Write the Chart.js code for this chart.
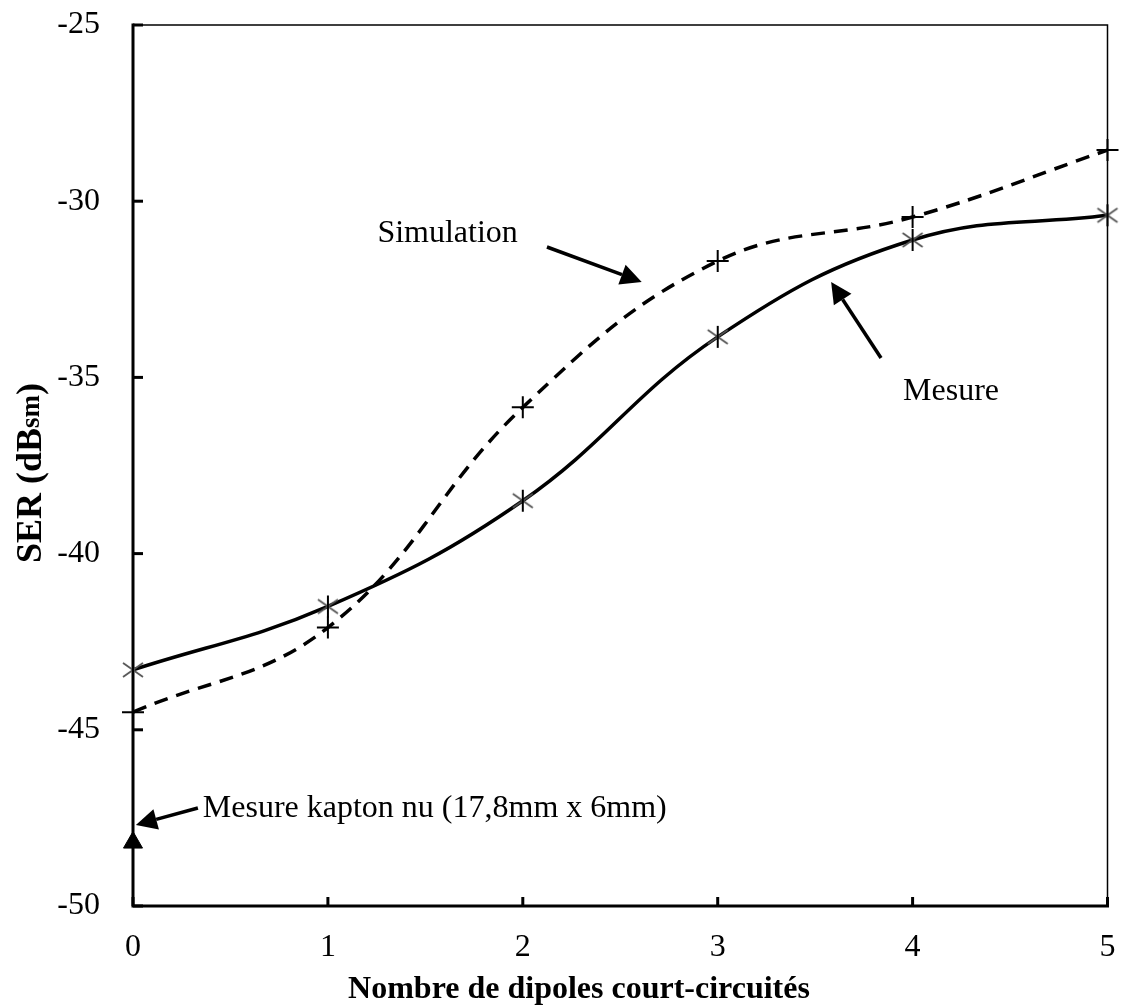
<!DOCTYPE html>
<html>
<head>
<meta charset="utf-8">
<script src="https://cdn.jsdelivr.net/npm/chart.js@4.4.1/dist/chart.umd.min.js"></script>
<style>
  html, body { margin: 0; padding: 0; background: #fff; }
  #wrap { width: 1124px; height: 1007px; }
</style>
</head>
<body>
<div id="wrap"><canvas id="myChart"></canvas></div>

<script>
    // values
    var dipoles = [0, 1, 2, 3, 4, 5];
    var mesure = [-43.3, -41.5, -38.5, -33.85, -31.1, -30.4];
    var simulation = [-44.5, -42.1, -35.85, -31.7, -30.45, -28.55];
    var kaptonX = [0];
    var kaptonY = [-48.2];
    var xTicks = [0, 1, 2, 3, 4, 5];
    var yTicks = [-50, -45, -40, -35, -30, -25];

    // annotations, in data units: text start + arrow tail/tip
    var noteText = ['Simulation', 'Mesure', 'Mesure kapton nu (17,8mm x 6mm)'];
    var noteAt = [[1.254, -31.16], [3.951, -35.64], [0.358, -47.47]];
    var arrowFrom = [[2.124, -31.30], [3.838, -34.45], [0.333, -47.22]];
    var arrowTo = [[2.610, -32.29], [3.582, -32.29], [0.015, -47.70]];

    var serif = "'Liberation Serif', 'Times New Roman', serif";

    // excel-like asterisk marker: grey X and a black vertical bar
    var star = document.createElement('canvas');
    star.width = 26; star.height = 26;
    var sc = star.getContext('2d');
    sc.strokeStyle = '#555';
    sc.lineWidth = 1.8;
    sc.beginPath();
    sc.moveTo(3, 6); sc.lineTo(23, 20);
    sc.moveTo(23, 6); sc.lineTo(3, 20);
    sc.stroke();
    sc.strokeStyle = '#000';
    sc.lineWidth = 2;
    sc.beginPath();
    sc.moveTo(13, 2); sc.lineTo(13, 24);
    sc.stroke();

    function xy(a, b) { return a.map(function (v, i) { return {x: v, y: b[i]}; }); }

    var framePlugin = {
        id: 'framePlugin',
        beforeDatasetsDraw: function (chart) {
            var c = chart.ctx, a = chart.chartArea;
            var xs = chart.scales.x, ys = chart.scales.y;
            c.save();
            c.strokeStyle = '#000';
            c.lineCap = 'square';
            // thin top and right
            c.lineWidth = 1.5;
            c.beginPath();
            c.moveTo(a.left, a.top); c.lineTo(a.right, a.top); c.lineTo(a.right, a.bottom);
            c.stroke();
            // thick left and bottom
            c.lineWidth = 3;
            c.beginPath();
            c.moveTo(a.left, a.top); c.lineTo(a.left, a.bottom); c.lineTo(a.right, a.bottom);
            c.stroke();
            c.lineCap = 'butt';
            yTicks.forEach(function (v) {
                var y = ys.getPixelForValue(v);
                c.beginPath(); c.moveTo(a.left, y); c.lineTo(a.left + 10, y); c.stroke();
            });
            xTicks.forEach(function (v) {
                var x = xs.getPixelForValue(v);
                c.beginPath(); c.moveTo(x, a.bottom); c.lineTo(x, a.bottom - 9); c.stroke();
            });
            c.restore();
        },
        afterDraw: function (chart) {
            var c = chart.ctx;
            var xs = chart.scales.x, ys = chart.scales.y;
            c.save();
            c.fillStyle = '#000';
            c.strokeStyle = '#000';
            // notes and arrows
            c.font = '32px ' + serif;
            c.textBaseline = 'alphabetic';
            c.textAlign = 'left';
            noteText.forEach(function (t, i) {
                c.fillText(t, xs.getPixelForValue(noteAt[i][0]), ys.getPixelForValue(noteAt[i][1]));
                var x0 = xs.getPixelForValue(arrowFrom[i][0]), y0 = ys.getPixelForValue(arrowFrom[i][1]);
                var x1 = xs.getPixelForValue(arrowTo[i][0]), y1 = ys.getPixelForValue(arrowTo[i][1]);
                var ang = Math.atan2(y1 - y0, x1 - x0), hl = 21, hw = 10.5;
                var bx = x1 - hl * Math.cos(ang), by = y1 - hl * Math.sin(ang);
                c.lineWidth = 3.5;
                c.beginPath(); c.moveTo(x0, y0); c.lineTo(bx, by); c.stroke();
                c.beginPath();
                c.moveTo(x1, y1);
                c.lineTo(bx + hw * Math.sin(ang), by - hw * Math.cos(ang));
                c.lineTo(bx - hw * Math.sin(ang), by + hw * Math.cos(ang));
                c.closePath(); c.fill();
            });
            // x axis title
            c.font = 'bold 32px ' + serif;
            c.textAlign = 'center';
            c.fillText('Nombre de dipoles court-circuités', 579, 998);
            // y axis title with smaller "sm"
            c.translate(41, 473);
            c.rotate(-Math.PI / 2);
            var big = 'bold 36px ' + serif, small = 'bold 27px ' + serif;
            c.font = big; var w1 = c.measureText('SER (dB').width, w3 = c.measureText(')').width;
            c.font = small; var w2 = c.measureText('sm').width;
            var sx = -(w1 + w2 + w3) / 2;
            c.textAlign = 'left';
            c.font = big; c.fillText('SER (dB', sx, 0);
            c.font = small; c.fillText('sm', sx + w1, -2);
            c.font = big; c.fillText(')', sx + w1 + w2, 0);
            c.restore();
        }
    };

    Chart.register(framePlugin);

    const ctx = document.getElementById('myChart');

    new Chart(ctx, {
        type: 'line',
        data: {
            datasets: [{
                label: 'Mesure',
                data: xy(dipoles, mesure),
                borderColor: '#000',
                borderWidth: 3.5,
                tension: 0.4,
                pointStyle: star,
                pointRadius: 13,
                clip: false
            }, {
                label: 'Simulation',
                data: xy(dipoles, simulation),
                borderColor: '#000',
                borderWidth: 3.5,
                borderDash: [14, 9],
                tension: 0.4,
                pointStyle: 'cross',
                pointRadius: 11,
                pointBorderWidth: 2,
                pointBorderColor: '#000',
                clip: false
            }, {
                label: 'Mesure kapton nu',
                data: xy(kaptonX, kaptonY),
                showLine: false,
                pointStyle: 'triangle',
                pointRadius: 11,
                backgroundColor: '#000',
                borderColor: '#000',
                clip: false
            }]
        },
        options: {
            responsive: true,
            maintainAspectRatio: false,
            animation: false,
            layout: { padding: { top: 25, right: 14, left: 0, bottom: 0 } },
            plugins: { legend: { display: false }, tooltip: { enabled: false } },
            scales: {
                x: {
                    type: 'linear',
                    min: 0, max: 5,
                    afterBuildTicks: function (s) { s.ticks = xTicks.map(function (v) { return {value: v}; }); },
                    afterFit: function (s) { s.height = 101; s.paddingLeft = 0; s.paddingRight = 0; },
                    grid: { display: false, drawTicks: false },
                    border: { display: false },
                    ticks: { color: '#000', font: { family: serif, size: 32 }, padding: 22, maxRotation: 0 }
                },
                y: {
                    min: -50, max: -25,
                    afterBuildTicks: function (s) { s.ticks = yTicks.map(function (v) { return {value: v}; }); },
                    afterFit: function (s) { s.width = 133; s.paddingTop = 0; s.paddingBottom = 0; },
                    grid: { display: false, drawTicks: false },
                    border: { display: false },
                    ticks: { color: '#000', font: { family: serif, size: 32 }, padding: 33,
                             callback: function (v) { return String(v); } }
                }
            }
        }
    });
</script>
</body>
</html>
